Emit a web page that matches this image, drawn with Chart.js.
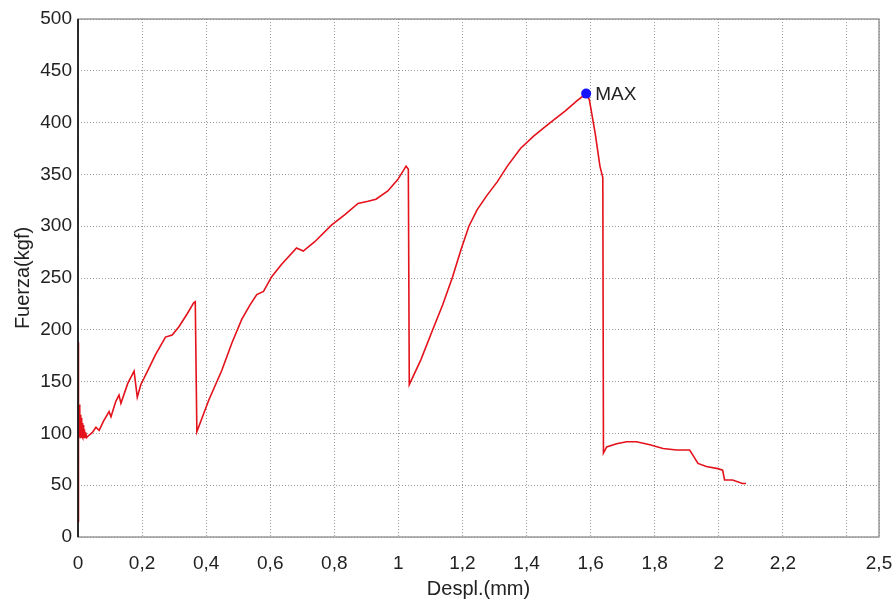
<!DOCTYPE html>
<html>
<head>
<meta charset="utf-8">
<script src="https://cdn.jsdelivr.net/npm/chart.js@4"></script>
<style>
  html, body { margin: 0; padding: 0; background: #fff; }
  #wrap { width: 896px; height: 601px; }
</style>
</head>
<body>
<div id="wrap"><canvas id="ensayo_chart"></canvas></div>
<script>
// Desplazamiento (mm) y fuerza (kgf) del ensayo
const despl = [
  0, 0, 0.001, 0.002, 0.003, 0.004, 0.005, 0.006, 0.007, 0.008, 0.009, 0.010, 0.011, 0.012, 0.013,
  0.014, 0.015, 0.016, 0.017, 0.018, 0.019, 0.020, 0.022, 0.024, 0.027, 0.03,
  0.045, 0.056, 0.066, 0.08, 0.097, 0.103, 0.118, 0.128, 0.134, 0.155, 0.175, 0.185, 0.196, 0.22, 0.242, 0.273, 0.294, 0.315, 0.34, 0.361, 0.366,
  0.371, 0.408, 0.449, 0.48, 0.511, 0.537, 0.558, 0.579, 0.604, 0.635, 0.682, 0.703, 0.739, 0.791, 0.832, 0.874, 0.905, 0.93, 0.967, 0.998, 1.024, 1.031,
  1.034, 1.07, 1.107, 1.138, 1.169, 1.195, 1.22, 1.246, 1.277, 1.309, 1.34, 1.381, 1.422, 1.474, 1.52, 1.557, 1.586,
  1.596, 1.614, 1.629, 1.638, 1.64,
  1.65, 1.681, 1.712, 1.743, 1.785, 1.826, 1.868, 1.909, 1.919, 1.935, 1.961, 1.997, 2.012, 2.018, 2.043, 2.074, 2.085
];
const fuerza = [
  15, 188, 100, 150, 96, 128, 97, 122, 96, 118, 97, 115, 96, 112, 97,
  110, 96, 108, 97, 106, 96, 104, 96, 101, 96, 97,
  101, 106, 103, 112, 121, 116, 131, 137, 129, 148, 160, 135, 147, 162, 176, 193, 195, 203, 215, 226, 227,
  101.5, 132, 161, 187, 210, 224, 234, 237, 251, 263, 279, 276, 285, 301, 311, 322, 324, 326, 334, 345, 358, 355,
  147, 171, 200, 224, 251, 277, 300, 316, 330, 343, 358, 375, 387, 400, 411, 421, 428,
  422, 390, 358, 347, 81,
  87, 90, 92, 92, 89, 85.5, 84, 84, 79, 71, 68, 66, 64.5, 55, 55, 51.6, 51.6
];

// Punto máximo
const maxDespl = [1.586];
const maxFuerza = [428];
const maxLabel = "MAX";

const xTicks = [0, 0.2, 0.4, 0.6, 0.8, 1, 1.2, 1.4, 1.6, 1.8, 2, 2.2, 2.4, 2.5];
const xHiddenLabel = 2.4;
const yMax = 500;

const fmtComa = v => String(Number(v.toFixed(1))).replace(".", ",");

// marco del área de trazado
const marcoPlugin = {
  id: "marco",
  afterDraw(chart) {
    const { ctx, chartArea: a } = chart;
    ctx.save();
    ctx.strokeStyle = "#8a8a8a";
    ctx.lineWidth = 1.3;
    ctx.strokeRect(a.left, a.top, a.right - a.left, a.bottom - a.top);
    ctx.strokeStyle = "#000";
    ctx.lineWidth = 1.5;
    ctx.beginPath();
    ctx.moveTo(a.left, a.top);
    ctx.lineTo(a.left, a.bottom);
    ctx.stroke();
    ctx.restore();
  }
};

// texto junto al punto máximo
const maxPlugin = {
  id: "maxText",
  afterDatasetsDraw(chart) {
    const pt = chart.getDatasetMeta(0).data[0];
    if (!pt) return;
    const { ctx } = chart;
    ctx.save();
    ctx.font = "19px 'Liberation Sans', Arial, sans-serif";
    ctx.fillStyle = "#222";
    ctx.textAlign = "left";
    ctx.textBaseline = "middle";
    ctx.fillText(maxLabel, pt.x + 9, pt.y + 1);
    ctx.restore();
  }
};

const gridCfg = { color: "#9a9a9a", lineWidth: 1, drawTicks: false };

new Chart(document.getElementById("ensayo_chart"), {
  type: "line",
  data: {
    datasets: [
      {
        data: maxDespl.map((x, i) => ({ x, y: maxFuerza[i] })),
        showLine: false,
        pointRadius: 5,
        pointBackgroundColor: "#1414ff",
        pointBorderColor: "#1414ff",
        pointBorderWidth: 0
      },
      {
        data: despl.map((x, i) => ({ x, y: fuerza[i] })),
        borderColor: "#e3121b",
        borderWidth: 1.6,
        pointRadius: 0,
        tension: 0,
        fill: false
      }
    ]
  },
  options: {
    responsive: true,
    maintainAspectRatio: false,
    animation: false,
    events: [],
    layout: { padding: { top: 19, right: 17, left: 0, bottom: 0 } },
    plugins: { legend: { display: false }, tooltip: { enabled: false } },
    scales: {
      x: {
        type: "linear",
        min: 0,
        max: 2.5,
        afterBuildTicks: s => { s.ticks = xTicks.map(v => ({ value: v })); },
        afterFit: s => { s.height = 64; s.paddingLeft = 0; s.paddingRight = 0; },
        grid: gridCfg,
        border: { display: false, dash: [1, 2] },
        ticks: {
          autoSkip: false,
          maxRotation: 0,
          padding: 15,
          color: "#222",
          font: { family: "'Liberation Sans', Arial, sans-serif", size: 19 },
          callback: v => (Math.abs(v - xHiddenLabel) < 1e-6 ? "" : fmtComa(v))
        },
        title: {
          display: true,
          text: "Despl.(mm)",
          color: "#222",
          padding: { top: 0, bottom: 0 },
          font: { family: "'Liberation Sans', Arial, sans-serif", size: 20 }
        }
      },
      y: {
        min: 0,
        max: yMax,
        afterFit: s => { s.width = 78; s.paddingTop = 0; s.paddingBottom = 0; },
        grid: gridCfg,
        border: { display: false, dash: [1, 2] },
        ticks: {
          stepSize: 50,
          padding: 6,
          color: "#222",
          font: { family: "'Liberation Sans', Arial, sans-serif", size: 19 }
        },
        title: {
          display: true,
          text: "Fuerza(kgf)",
          color: "#222",
          padding: { top: 11, bottom: 0 },
          font: { family: "'Liberation Sans', Arial, sans-serif", size: 20 }
        }
      }
    }
  },
  plugins: [marcoPlugin, maxPlugin]
});
</script>
</body>
</html>
